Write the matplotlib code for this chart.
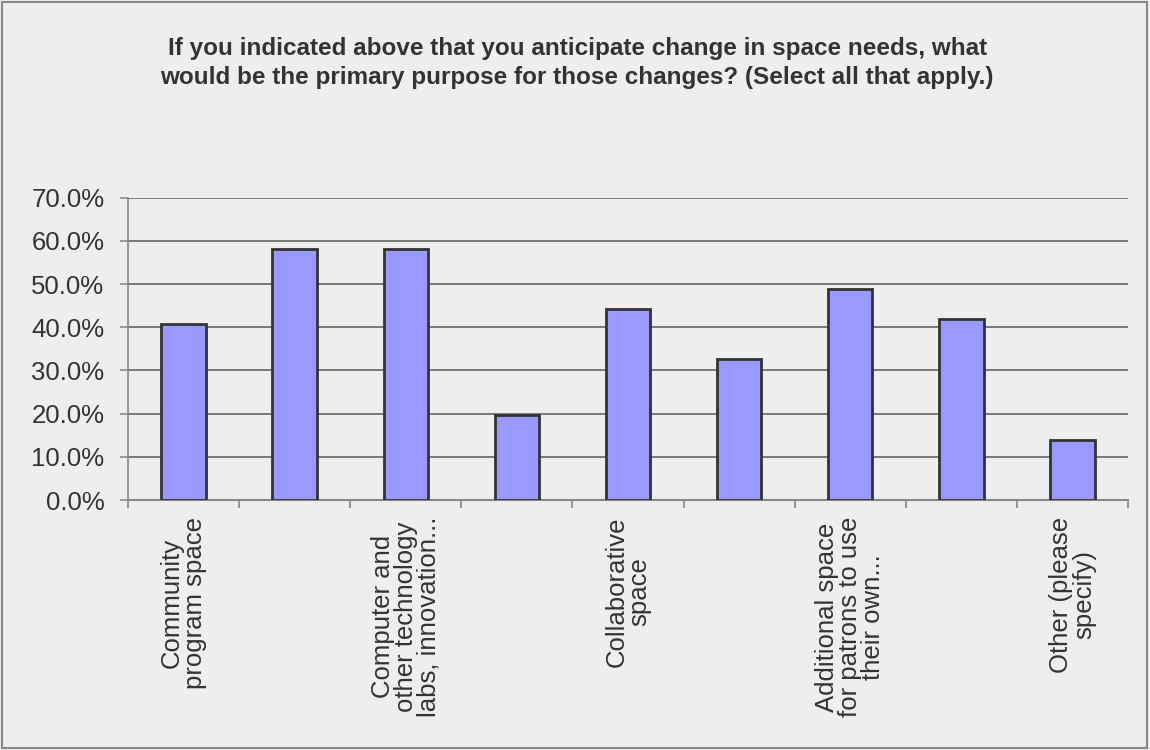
import matplotlib.pyplot as plt
from matplotlib.patches import Rectangle
from matplotlib.ticker import FuncFormatter, FixedLocator

plt.rcParams['font.family'] = ['Liberation Sans', 'DejaVu Sans']

title = ("If you indicated above that you anticipate change in space needs, what\n"
         "would be the primary purpose for those changes? (Select all that apply.)")

# only every other category name fits under the axis
labels = ["Community\nprogram space", "",
          "Computer and\nother technology\nlabs, innovation...", "",
          "Collaborative\nspace", "",
          "Additional space\nfor patrons to use\ntheir own...", "",
          "Other (please\nspecify)"]
values = [40.7, 58.1, 58.1, 19.8, 44.2, 32.6, 48.8, 41.9, 14.0]

bg = '#eeeeee'
fig = plt.figure(figsize=(11.5, 7.5), dpi=100, facecolor=bg)
fig.patches.append(Rectangle((0.002, 0.003), 0.995, 0.994, transform=fig.transFigure,
                             fill=False, edgecolor='#888888', linewidth=1.5))

ax = fig.add_axes([0.1113, 0.3333, 0.8696, 0.4031], facecolor=bg)
x = list(range(len(values)))
ax.bar(x, values, width=0.4, color='#9999ff', edgecolor='#333333', linewidth=2, zorder=3)

ax.set_xlim(-0.5, len(values) - 0.5)
ax.set_ylim(0, 70)
ax.set_yticks(range(0, 71, 10))
ax.yaxis.set_major_formatter(FuncFormatter(lambda v, p: f"{v:.1f}%"))
ax.grid(axis='y', color='#666666', linewidth=1.2, zorder=0)

# category boundary ticks, labels centred on each bar
ax.xaxis.set_major_locator(FixedLocator([i - 0.5 for i in range(len(values) + 1)]))
ax.xaxis.set_major_formatter(FuncFormatter(lambda v, p: ""))
ax.xaxis.set_minor_locator(FixedLocator(x))
ax.set_xticklabels(labels, minor=True)
ax.tick_params(axis='x', which='major', length=6, color='#888888', width=1.2)
ax.tick_params(axis='x', which='minor', length=0, pad=12, labelsize=18.5, labelcolor='#333333')
for t in ax.get_xticklabels(minor=True):
    t.set_rotation(90)
    t.set_ha('center')
    t.set_va('top')
    t.set_multialignment('center')
    t.set_linespacing(0.95)
ax.tick_params(axis='y', length=6, color='#888888', width=1.2, labelsize=18.5,
               labelcolor='#333333', pad=11)

for s in ['top', 'right']:
    ax.spines[s].set_visible(False)
ax.spines['left'].set_color('#888888')
ax.spines['bottom'].set_color('#888888')
ax.spines['left'].set_linewidth(1.2)
ax.spines['bottom'].set_linewidth(1.5)

fig.text(0.502, 0.916, title, ha='center', va='center', fontsize=17.5, fontweight='bold',
         color='#333333', linespacing=1.3)

fig.savefig('out.png', dpi=100, facecolor=bg)
